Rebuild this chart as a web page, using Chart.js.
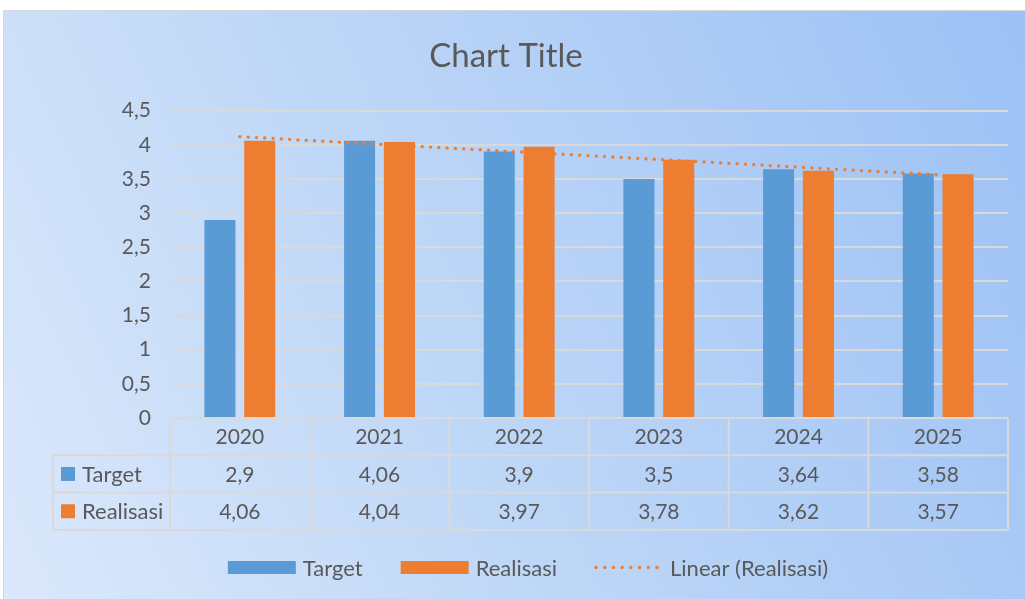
<!DOCTYPE html>
<html>
<head>
<meta charset="utf-8">
<script src="https://cdn.jsdelivr.net/npm/chart.js@4/dist/chart.umd.min.js"></script>
<style>
    html, body { margin: 0; padding: 0; background: #ffffff; overflow: hidden; }
    #frame {
        position: absolute; left: 3px; top: 10px; width: 1024px; height: 592px;
        box-sizing: border-box; border: 1px solid #d6d6d6;
        background: linear-gradient(65deg, #dbe8fb 0%, #c0d8f7 40%, #9cc1f5 100%);
    }
    #chart { position: absolute; left: 0; top: 0; }
</style>
</head>
<body>
<div id="frame"><canvas id="chart" width="1021" height="588"></canvas></div>
<script>
(function() {
    'use strict';

    const years = ['2020', '2021', '2022', '2023', '2024', '2025'];
    const target = [2.9, 4.06, 3.9, 3.5, 3.64, 3.58];
    const realisasi = [4.06, 4.04, 3.97, 3.78, 3.62, 3.57];
    const yMax = 4.5;
    const yStep = 0.5;

    const BLUE = '#5b9bd5';
    const ORANGE = '#ed7d31';
    const TEXT = '#595959';
    const LINE = '#d9d9d9';
    const FONT = 'Lato, "Open Sans", sans-serif';

    // least squares trend of Realisasi, like Excel's linear trendline
    function linearTrend(values) {
        var n = values.length, sx = 0, sy = 0, sxy = 0, sxx = 0;
        values.forEach(function(v, i) {
            var x = i + 1;
            sx += x; sy += v; sxy += x * v; sxx += x * x;
        });
        var slope = (n * sxy - sx * sy) / (n * sxx - sx * sx);
        var icpt = (sy - slope * sx) / n;
        return values.map(function(v, i) { return icpt + slope * (i + 1); });
    }

    function fmt(v) {
        return String(v).replace('.', ',');
    }

    const dataTable = {
        id: 'dataTable',
        afterDraw: function(chart) {
            var ctx = chart.ctx;
            var area = chart.chartArea;
            var colW = (area.right - area.left) / years.length;
            var rowH = 37.3;
            var top = area.bottom;
            var keyLeft = 49;
            var rows = [top, top + rowH, top + 2 * rowH, top + 3 * rowH];

            ctx.save();
            ctx.strokeStyle = LINE;
            ctx.lineWidth = 2;
            ctx.beginPath();
            ctx.moveTo(area.left, rows[0]); ctx.lineTo(area.right, rows[0]);
            for (var r = 1; r < 4; r++) {
                ctx.moveTo(keyLeft, rows[r]); ctx.lineTo(area.right, rows[r]);
            }
            ctx.moveTo(keyLeft, rows[1]); ctx.lineTo(keyLeft, rows[3]);
            for (var c = 0; c <= years.length; c++) {
                var x = area.left + c * colW;
                ctx.moveTo(x, rows[0]); ctx.lineTo(x, rows[3]);
            }
            ctx.stroke();

            ctx.fillStyle = TEXT;
            ctx.font = '21px ' + FONT;
            ctx.textAlign = 'center';
            ctx.textBaseline = 'middle';
            var xs = chart.scales.x;
            years.forEach(function(y, i) {
                var cx = xs.getPixelForValue(i);
                ctx.fillText(y, cx, rows[0] + rowH / 2 + 1);
                ctx.fillText(fmt(target[i]), cx, rows[1] + rowH / 2 + 1);
                ctx.fillText(fmt(realisasi[i]), cx, rows[2] + rowH / 2 + 1);
            });

            var keys = [['Target', BLUE], ['Realisasi', ORANGE]];
            ctx.textAlign = 'left';
            ctx.font = '22px ' + FONT;
            keys.forEach(function(k, i) {
                var cy = rows[i + 1] + rowH / 2;
                ctx.fillStyle = k[1];
                ctx.fillRect(keyLeft + 8, cy - 7, 14, 14);
                ctx.fillStyle = TEXT;
                ctx.fillText(k[0], keyLeft + 29, cy + 1);
            });
            ctx.restore();
        }
    };

    const bottomLegend = {
        id: 'bottomLegend',
        afterDraw: function(chart) {
            var ctx = chart.ctx;
            var cy = 556.5;
            var items = [
                { text: 'Target', color: BLUE, kind: 'box' },
                { text: 'Realisasi', color: ORANGE, kind: 'box' },
                { text: 'Linear (Realisasi)', color: ORANGE, kind: 'dots' }
            ];
            ctx.save();
            ctx.font = '22px ' + FONT;
            var swatch = 68, gapIn = 7, gapOut = 38;
            var total = 0;
            items.forEach(function(it, i) {
                it.w = ctx.measureText(it.text).width;
                total += swatch + gapIn + it.w + (i < items.length - 1 ? gapOut : 0);
            });
            var x = 524 - total / 2;
            ctx.textBaseline = 'middle';
            ctx.textAlign = 'left';
            items.forEach(function(it) {
                if (it.kind === 'box') {
                    ctx.fillStyle = it.color;
                    ctx.fillRect(x, cy - 6.5, swatch, 13);
                } else {
                    ctx.strokeStyle = it.color;
                    ctx.lineWidth = 3.3;
                    ctx.lineCap = 'round';
                    ctx.setLineDash([0.1, 8.6]);
                    ctx.beginPath();
                    ctx.moveTo(x + 1, cy);
                    ctx.lineTo(x + swatch, cy);
                    ctx.stroke();
                    ctx.setLineDash([]);
                }
                ctx.fillStyle = TEXT;
                ctx.fillText(it.text, x + swatch + gapIn, cy + 1);
                x += swatch + gapIn + it.w + gapOut;
            });
            ctx.restore();
        }
    };

    new Chart(document.getElementById('chart'), {
        type: 'bar',
        data: {
            labels: years,
            datasets: [{
                type: 'line',
                label: 'Linear (Realisasi)',
                data: linearTrend(realisasi),
                borderColor: ORANGE,
                borderWidth: 3.3,
                borderDash: [0.1, 8.2],
                borderCapStyle: 'round',
                pointRadius: 0,
                fill: false,
                order: 0
            }, {
                label: 'Target',
                data: target,
                backgroundColor: BLUE,
                borderWidth: 0,
                categoryPercentage: 0.57,
                barPercentage: 0.78,
                order: 1
            }, {
                label: 'Realisasi',
                data: realisasi,
                backgroundColor: ORANGE,
                borderWidth: 0,
                categoryPercentage: 0.57,
                barPercentage: 0.78,
                order: 1
            }]
        },
        options: {
            responsive: false,
            devicePixelRatio: 1,
            animation: false,
            layout: { padding: { left: 0, right: 17, top: 0, bottom: 181 } },
            plugins: {
                legend: { display: false },
                tooltip: { enabled: false },
                title: {
                    display: true,
                    text: 'Chart Title',
                    color: TEXT,
                    font: { family: FONT, size: 33, weight: 'normal' },
                    padding: { top: 26, bottom: 34 }
                }
            },
            scales: {
                x: {
                    display: false,
                    offset: true
                },
                y: {
                    min: 0,
                    max: yMax,
                    border: { display: false },
                    grid: { color: LINE, lineWidth: 2, drawTicks: false },
                    ticks: {
                        stepSize: yStep,
                        padding: 19,
                        color: TEXT,
                        font: { family: FONT, size: 21 },
                        callback: function(v) { return fmt(v); }
                    },
                    afterFit: function(scale) { scale.width = 166; }
                }
            }
        },
        plugins: [dataTable, bottomLegend]
    });
})();
</script>
</body>
</html>
